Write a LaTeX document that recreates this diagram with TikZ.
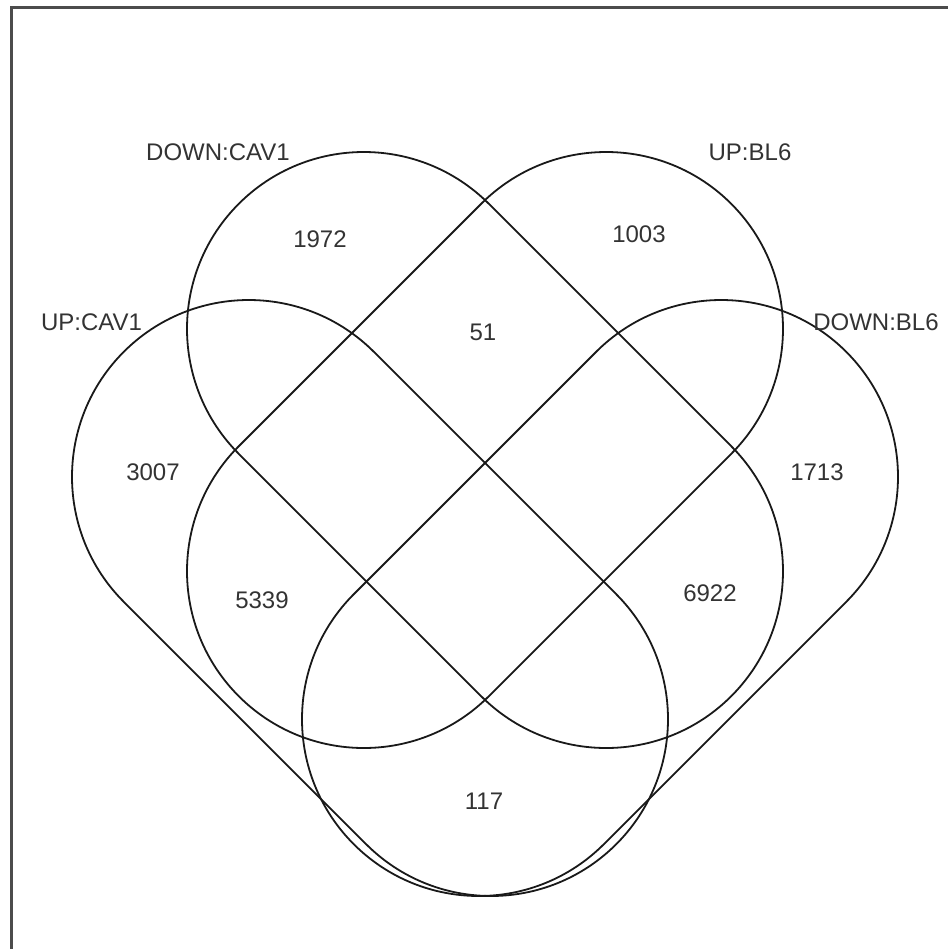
\documentclass[tikz,border=0pt]{standalone}
\usepackage{fontspec}
\setmainfont{Liberation Sans}
\begin{document}
\begin{tikzpicture}[x=0.5pt, y=-0.5pt,
    every node/.style={font=\fontsize{12}{14}\selectfont, text=black!80},
    outline/.style={line width=0.9pt, draw=black!90},
    frame/.style={line width=1.4pt, draw=black!70},
    setlabel/.style={inner sep=0pt},
    count/.style={inner sep=0pt},
    stadium/.pic={
      \draw[outline] (-171.4,-176.8) -- (171.4,-176.8)
        arc[start angle=-90, end angle=90, radius=176.8]
        -- (-171.4,176.8)
        arc[start angle=90, end angle=270, radius=176.8] -- cycle;
    }
  ]
  \useasboundingbox (0,0) rectangle (948,949);
  \draw[frame] (11.5,949) -- (11.5,7.5) -- (948,7.5);

  % the four sets
  \pic[rotate=-45] at (485,450) {stadium}; % DOWN:CAV1
  \pic[rotate=45]  at (485,450) {stadium}; % UP:BL6
  \pic[rotate=-45] at (370,598) {stadium}; % UP:CAV1
  \pic[rotate=45]  at (600,598) {stadium}; % DOWN:BL6

  % set names
  \node[setlabel] (downcav) at (218,152)  {DOWN:CAV1};
  \node[setlabel] (upbl)    at (750,152)  {UP:BL6};
  \node[setlabel] (upcav)   at (91.5,322) {UP:CAV1};
  \node[setlabel] (downbl)  at (876,322)  {DOWN:BL6};

  % counts
  \node[count] (c1972) at (320,239) {1972};
  \node[count] (c1003) at (639,234) {1003};
  \node[count] (c51)   at (483,332) {51};
  \node[count] (c3007) at (153,472) {3007};
  \node[count] (c1713) at (817,472) {1713};
  \node[count] (c5339) at (262,600) {5339};
  \node[count] (c6922) at (710,593) {6922};
  \node[count] (c117)  at (484,801) {117};
\end{tikzpicture}
\end{document}
